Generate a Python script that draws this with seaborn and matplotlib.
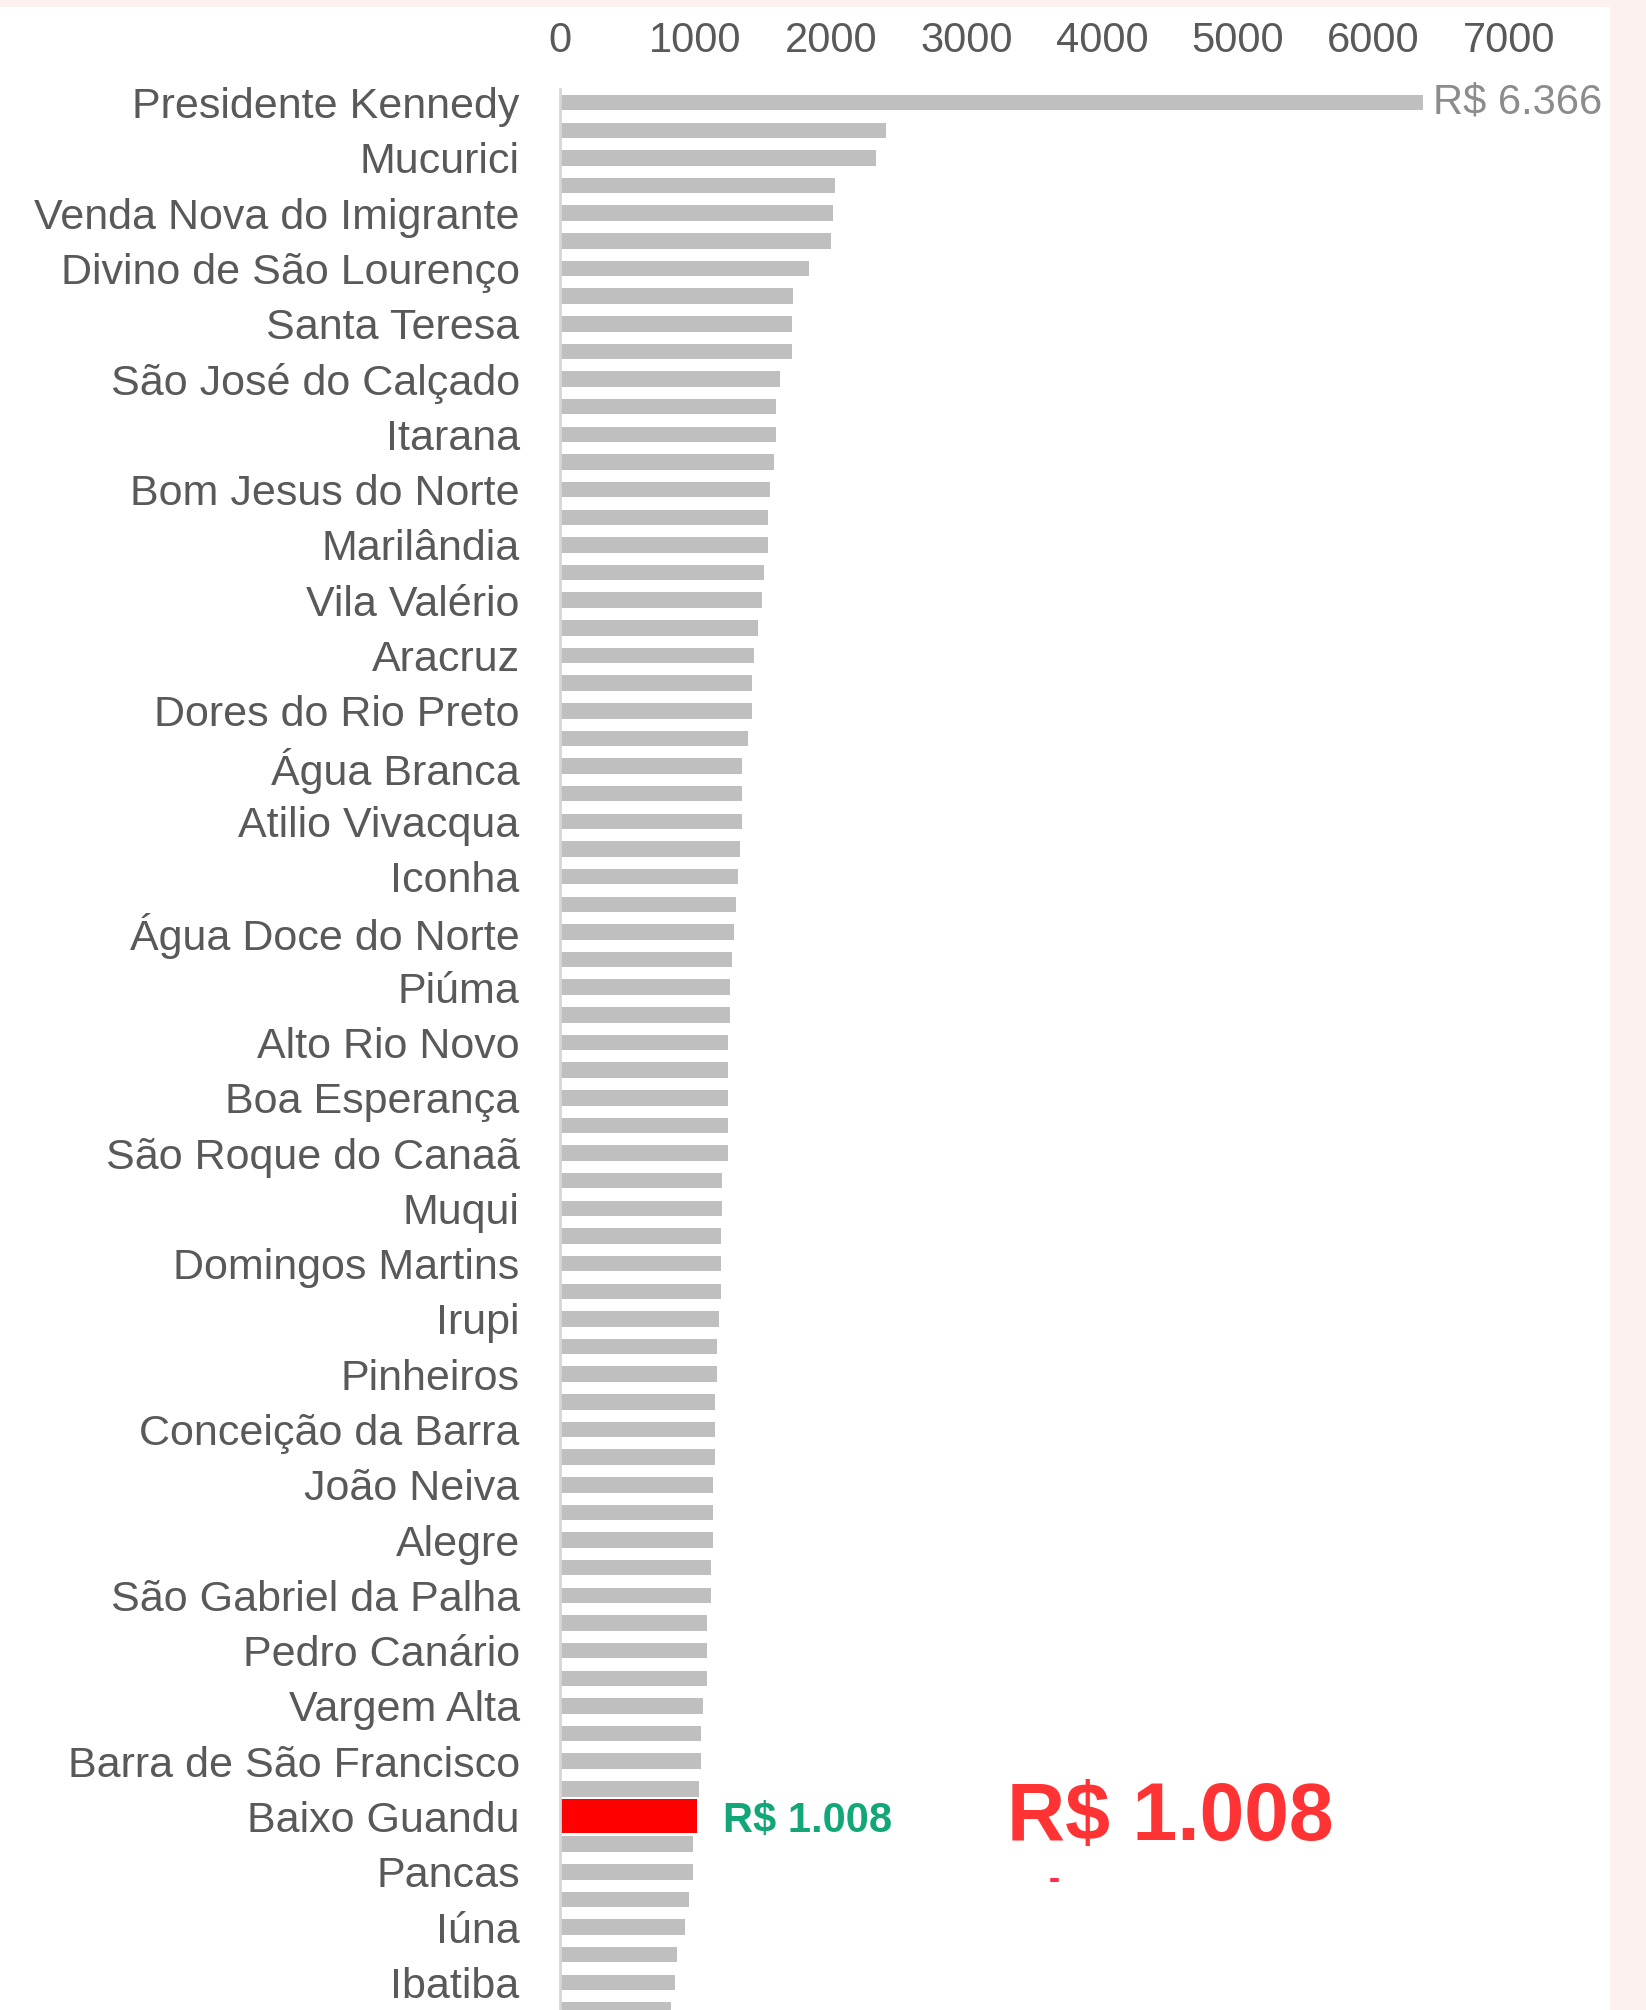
import matplotlib
matplotlib.use("Agg")
import matplotlib.pyplot as plt
from matplotlib.patches import Rectangle
import pandas as pd
import seaborn as sns

# every other municipality is labelled on the y axis
labeled_cities = [
    "Presidente Kennedy", "Mucurici", "Venda Nova do Imigrante", "Divino de São Lourenço",
    "Santa Teresa", "São José do Calçado", "Itarana", "Bom Jesus do Norte", "Marilândia",
    "Vila Valério", "Aracruz", "Dores do Rio Preto", "Água Branca", "Atilio Vivacqua",
    "Iconha", "Água Doce do Norte", "Piúma", "Alto Rio Novo", "Boa Esperança",
    "São Roque do Canaã", "Muqui", "Domingos Martins", "Irupi", "Pinheiros",
    "Conceição da Barra", "João Neiva", "Alegre", "São Gabriel da Palha", "Pedro Canário",
    "Vargem Alta", "Barra de São Francisco", "Baixo Guandu", "Pancas", "Iúna", "Ibatiba",
]

# R$ per municipality, in ranking order (top to bottom)
values = [
    6366, 2406, 2332, 2030, 2012, 2000, 1840, 1722, 1710, 1710,
    1621, 1594, 1594, 1579, 1550, 1535, 1535, 1505, 1490, 1461,
    1432, 1417, 1417, 1387, 1343, 1343, 1343, 1328, 1316, 1301,
    1287, 1272, 1257, 1257, 1242, 1242, 1242, 1242, 1242, 1198,
    1198, 1186, 1186, 1186, 1171, 1156, 1156, 1141, 1141, 1141,
    1127, 1127, 1127, 1112, 1112, 1085, 1085, 1085, 1055, 1041,
    1041, 1026, 1008, 984, 984, 954, 925, 866, 851, 822,
]
rank = list(range(len(values)))
xticks = [0, 1000, 2000, 3000, 4000, 5000, 6000, 7000]

highlight_city = "Baixo Guandu"
highlight_rank = 2 * labeled_cities.index(highlight_city)
top_rank = 0

GRAY = "#bfbfbf"
TEXT = "#595959"
RED = "#ff0000"


def brl(v):
    return "R$ " + f"{v:,}".replace(",", ".")


sns.set_style("white")
plt.rcParams["font.family"] = ["Liberation Sans", "DejaVu Sans"]

W, H = 1646, 2010
fig = plt.figure(figsize=(W / 100, H / 100), dpi=100, facecolor="#fbf1ee")
fig.patches.append(Rectangle((0, 0), 1610 / W, 1 - 7 / H, transform=fig.transFigure,
                             facecolor="white", edgecolor="none", zorder=-10))
ax = fig.add_axes([560 / W, 0, (1509 - 560) / W, 1 - 88.8 / H])
ax.set_facecolor("none")

df = pd.DataFrame({"rank": rank, "value": values})
sns.barplot(data=df, x="value", y="rank", orient="y", native_scale=True, width=0.56,
            color=GRAY, saturation=1, errorbar=None, linewidth=0, ax=ax)
hl = df[df["rank"] == highlight_rank]
sns.barplot(data=hl, x="value", y="rank", orient="y", native_scale=True, width=1.23,
            color=RED, saturation=1, errorbar=None, linewidth=0, ax=ax)

ax.set_xlim(0, 7000)
ax.set_ylim(69.0, -0.5)
ax.set_xlabel("")
ax.set_ylabel("")

ax.xaxis.tick_top()
ax.set_xticks(xticks)
ax.set_xticklabels([str(t) for t in xticks], fontsize=30, color=TEXT)
ax.tick_params(axis="x", length=0, pad=20)
ax.set_yticks(rank[::2])
ax.set_yticklabels(labeled_cities, fontsize=31, color=TEXT)
ax.tick_params(axis="y", length=0, pad=29)

for side in ["top", "right", "bottom"]:
    ax.spines[side].set_visible(False)
ax.spines["left"].set_color("#d6d6d6")
ax.spines["left"].set_linewidth(2)

top_val = values[top_rank]
ax.annotate(brl(top_val), xy=(top_val, top_rank), xytext=(7, 0), textcoords="offset points",
            va="center", ha="left", fontsize=30, color="#8c8c8c", annotation_clip=False)

hv = values[highlight_rank]
ax.annotate(brl(hv), xy=(hv, highlight_rank), xytext=(19, -3), textcoords="offset points",
            va="center", ha="left", fontsize=30, fontweight="bold", color="#13a678")
ax.annotate(brl(hv), xy=(3300, highlight_rank), xytext=(0, -2), textcoords="offset points",
            va="center", ha="left", fontsize=58, fontweight="bold", color="#ff3333")
ax.text(3646, highlight_rank + 2.3, "-", va="center", ha="center", fontsize=24,
        fontweight="bold", color="#ff2d4a")

fig.savefig("out.png", dpi=100, facecolor=fig.get_facecolor())
